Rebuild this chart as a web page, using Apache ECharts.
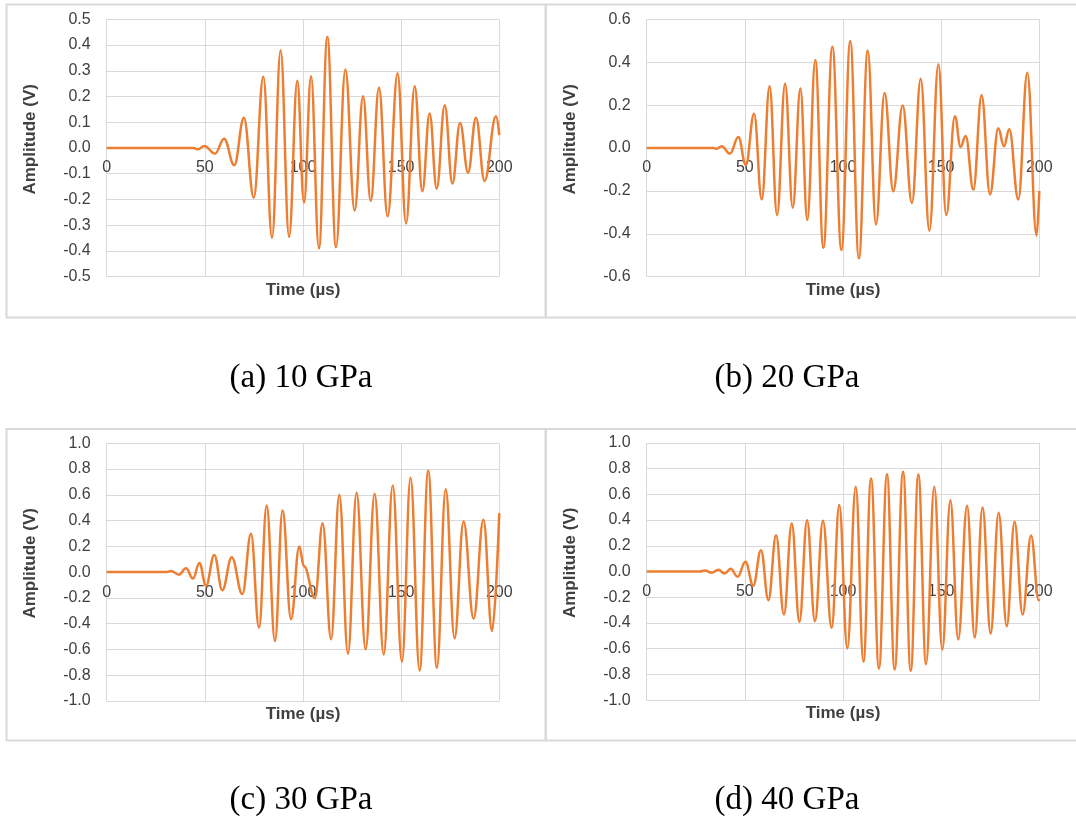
<!DOCTYPE html>
<html>
<head>
<meta charset="utf-8">
<script src="https://cdn.jsdelivr.net/npm/echarts@6/dist/echarts.min.js"></script>
<style>
  html, body { margin: 0; padding: 0; background: #ffffff; }
  #chart { width: 1076px; height: 816px; }
</style>
</head>
<body>
<div id="chart"></div>
<script>
// ---- Data (time in µs, amplitude in V; extrema of each waveform) ----
const xTicks = [0, 50, 100, 150, 200];

const timeA = [0, 44, 46.5, 49.7, 55.2, 59.8, 65, 69.9, 74.9, 79.8, 84.2, 88.6, 92.9, 97.1, 100.5, 104.1, 108.1, 112.4, 116.8, 121.6, 126.3, 130.6, 134.5, 138.7, 143.1, 148.2, 152.5, 156.9, 160.8, 164.5, 168.1, 172.2, 176.1, 180, 184.1, 188.1, 192.5, 198.3, 200];
const ampA  = [0, 0, -0.005, 0.008, -0.022, 0.036, -0.067, 0.118, -0.193, 0.277, -0.349, 0.38, -0.345, 0.261, -0.212, 0.279, -0.39, 0.432, -0.386, 0.305, -0.243, 0.201, -0.205, 0.234, -0.265, 0.29, -0.293, 0.24, -0.168, 0.134, -0.158, 0.166, -0.138, 0.097, -0.096, 0.118, -0.128, 0.123, 0.05];

const timeB = [0, 34, 35.5, 38.2, 42.4, 46.7, 50.5, 54.7, 58.6, 62.6, 66.4, 70.5, 74.4, 78.3, 81.8, 85.9, 90, 94.6, 99.2, 103.7, 108.1, 112.6, 116.8, 121.2, 125.6, 130.4, 135.1, 139.6, 144, 148.6, 152.6, 157, 159.9, 162.5, 166.4, 170.6, 174.9, 179.1, 182, 184.7, 189.3, 193.9, 198.6, 200];
const ampB  = [0, 0, -0.004, 0.008, -0.026, 0.051, -0.08, 0.16, -0.24, 0.288, -0.313, 0.299, -0.278, 0.277, -0.336, 0.41, -0.465, 0.472, -0.476, 0.499, -0.515, 0.454, -0.357, 0.256, -0.202, 0.198, -0.256, 0.323, -0.386, 0.391, -0.313, 0.148, 0.005, 0.056, -0.194, 0.246, -0.216, 0.092, 0.008, 0.087, -0.24, 0.351, -0.409, -0.2];

const timeC = [0, 30, 32.8, 36.8, 40.4, 44, 47.2, 50.6, 54.8, 58.9, 63.7, 69.1, 73.5, 77.6, 81.5, 85.7, 89.6, 93.9, 98.1, 100.5, 106.1, 110, 114.3, 118.5, 122.9, 127.3, 131.9, 136.5, 141.1, 145.7, 150.4, 154.8, 159.4, 163.8, 168.2, 172.7, 177.2, 181.8, 186.9, 191.9, 196.3, 200];
const ampC  = [0, 0, 0.008, -0.02, 0.029, -0.05, 0.07, -0.106, 0.133, -0.14, 0.115, -0.171, 0.297, -0.431, 0.518, -0.535, 0.479, -0.366, 0.198, 0.045, -0.203, 0.38, -0.522, 0.6, -0.634, 0.617, -0.6, 0.609, -0.639, 0.672, -0.696, 0.732, -0.764, 0.786, -0.743, 0.643, -0.514, 0.393, -0.361, 0.406, -0.457, 0.458];

const timeD = [0, 27, 29.7, 33.1, 36.5, 39.6, 42.8, 46.3, 50.3, 54.3, 58.2, 62, 65.9, 69.9, 73.9, 77.8, 81.7, 85.7, 89.8, 94.2, 98.1, 102.2, 106.5, 110.4, 114.3, 118.3, 122.4, 126.3, 130.6, 134.5, 138.4, 142.3, 146.5, 150.6, 154.7, 158.7, 163.2, 167.1, 171.1, 175.2, 179.3, 183.4, 187.4, 191.5, 195.8, 199.7, 200];
const ampD  = [0, 0, 0.008, -0.01, 0.013, -0.016, 0.021, -0.041, 0.075, -0.111, 0.166, -0.223, 0.282, -0.334, 0.373, -0.391, 0.399, -0.386, 0.394, -0.438, 0.516, -0.598, 0.658, -0.702, 0.723, -0.754, 0.756, -0.762, 0.775, -0.772, 0.754, -0.72, 0.658, -0.606, 0.554, -0.528, 0.51, -0.513, 0.497, -0.482, 0.456, -0.425, 0.386, -0.334, 0.28, -0.223, -0.215];

const yRanges = [[-0.5, 0.5, 0.1], [-0.6, 0.6, 0.2], [-1.0, 1.0, 0.2], [-1.0, 1.0, 0.2]];
const captions = ['(a) 10 GPa', '(b) 20 GPa', '(c) 30 GPa', '(d) 40 GPa'];
const xTitle = 'Time (µs)';
const yTitle = 'Amplitude (V)';

// ---- Layout ----
const grids = [
  { left: 106.7, top: 19.3, width: 392.6, height: 257.4 },
  { left: 646.7, top: 19.3, width: 392.6, height: 257.4 },
  { left: 106.7, top: 443.3, width: 392.6, height: 257.6 },
  { left: 646.7, top: 442.8, width: 392.6, height: 257.4 }
];
const frames = [
  { x: 6.5, y: 4.5, w: 539, h: 313 },
  { x: 546, y: 4.5, w: 540, h: 313 },
  { x: 6.5, y: 429, w: 539, h: 311.5 },
  { x: 546, y: 429, w: 540, h: 311.5 }
];
const series = [[timeA, ampA], [timeB, ampB], [timeC, ampC], [timeD, ampD]];

const gridColor = '#d9d9d9';
const textColor = '#404040';
const fontSans = '"Liberation Sans", Arial, sans-serif';

const option = {
  animation: false,
  backgroundColor: '#ffffff',
  grid: grids.map(g => Object.assign({ containLabel: false }, g)),
  xAxis: grids.map((g, i) => {
    // The horizontal axis crosses at amplitude 0 (as in the reference)
    const zeroFrac = (0 - yRanges[i][0]) / (yRanges[i][1] - yRanges[i][0]);
    return {
      type: 'value', gridIndex: i, min: 0, max: 200, interval: 50,
      position: 'bottom', offset: -g.height * zeroFrac,
      axisLine: { show: true, onZero: false, lineStyle: { color: gridColor, width: 1 } },
      axisTick: { show: false },
      splitLine: { show: true, lineStyle: { color: gridColor, width: 1 } },
      axisLabel: { show: true, color: textColor, fontSize: 16, fontFamily: fontSans, margin: 12,
                   showMinLabel: true, showMaxLabel: true,
                   formatter: v => String(v) }
    };
  }),
  yAxis: grids.map((g, i) => ({
    type: 'value', gridIndex: i, min: yRanges[i][0], max: yRanges[i][1], interval: yRanges[i][2],
    axisLine: { show: false, onZero: false },
    axisTick: { show: false },
    splitLine: { show: true, lineStyle: { color: gridColor, width: 1 } },
    axisLabel: { color: textColor, fontSize: 16, fontFamily: fontSans, margin: 16,
                 formatter: v => (Math.abs(v) < 1e-9 ? '0.0' : v.toFixed(1)) }
  })),
  series: series.map((s, i) => ({
    type: 'line', xAxisIndex: i, yAxisIndex: i,
    data: s[0].map((t, k) => [t, s[1][k]]),
    showSymbol: false, symbol: 'none',
    smooth: 0.4, smoothMonotone: 'x',
    lineStyle: { color: '#ED7D31', width: 2.5 },
    z: 5
  })),
  graphic: []
};

frames.forEach(f => {
  option.graphic.push({
    type: 'rect', silent: true, z: -10,
    shape: { x: f.x, y: f.y, width: f.w, height: f.h },
    style: { fill: 'none', stroke: gridColor, lineWidth: 2 }
  });
});

grids.forEach((g, i) => {
  option.graphic.push({
    type: 'text', silent: true,
    x: g.left + g.width / 2, y: g.top + g.height + 13.5,
    style: { text: xTitle, font: 'bold 17px ' + fontSans, fill: textColor, textAlign: 'center', textVerticalAlign: 'middle' }
  });
  option.graphic.push({
    type: 'text', silent: true,
    x: g.left - 76.5, y: g.top + 120,
    rotation: Math.PI / 2,
    style: { text: yTitle, font: 'bold 17px ' + fontSans, fill: textColor, textAlign: 'center', textVerticalAlign: 'middle' }
  });
});

const capPos = [[301, 378], [787, 378], [301, 800], [787, 800]];
captions.forEach((c, i) => {
  option.graphic.push({
    type: 'text', silent: true,
    x: capPos[i][0], y: capPos[i][1],
    style: { text: c, font: '33px "Liberation Serif", "Times New Roman", serif', fill: '#000000', textAlign: 'center', textVerticalAlign: 'middle' }
  });
});

const chart = echarts.init(document.getElementById('chart'), null, { renderer: 'canvas' });
chart.setOption(option);
</script>
</body>
</html>
